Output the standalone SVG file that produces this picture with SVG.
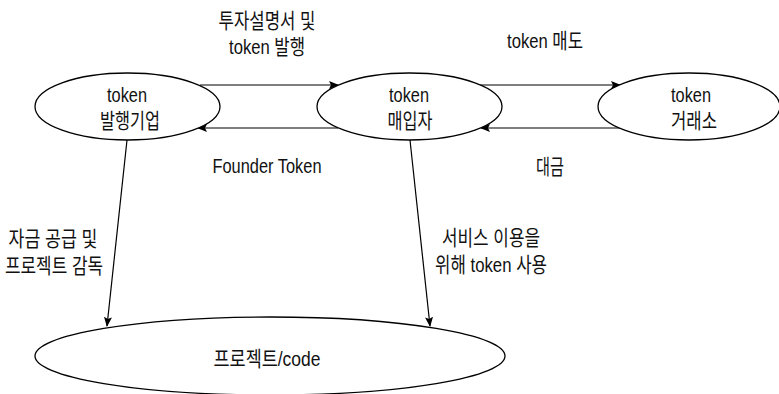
<svg xmlns="http://www.w3.org/2000/svg" width="779" height="394" viewBox="0 0 779 394">
<style>
.n{fill:#fff;stroke:#000;stroke-width:1.3}
.c{stroke:#000;stroke-width:1.2;fill:none;marker-end:url(#ah)}
text{font-family:"Liberation Sans","Noto Sans CJK KR",sans-serif;font-size:21px;fill:#111;text-anchor:middle}
</style>
<defs>
<marker id="ah" viewBox="0 0 10 10" refX="9" refY="5" markerWidth="10" markerHeight="10" markerUnits="userSpaceOnUse" orient="auto">
<path d="M0,1 L10,5 L0,9 L2,5 Z" fill="#000"/>
</marker>
</defs>
<rect width="779" height="394" fill="#fff"/>
<g id="connectors">
<line class="c" x1="200" y1="85" x2="338" y2="85"/>
<line class="c" x1="338" y1="128" x2="198" y2="128"/>
<line class="c" x1="480" y1="85" x2="620" y2="85"/>
<line class="c" x1="620" y1="128" x2="481" y2="128"/>
<line class="c" x1="127" y1="140" x2="107" y2="326"/>
<line class="c" x1="410" y1="140" x2="430" y2="326"/>
<text x="267" y="28" textLength="97" lengthAdjust="spacingAndGlyphs">투자설명서 및</text>
<text x="267" y="54" textLength="76" lengthAdjust="spacingAndGlyphs">token 발행</text>
<text x="267" y="173" textLength="109" lengthAdjust="spacingAndGlyphs">Founder Token</text>
<text x="545" y="48" textLength="76" lengthAdjust="spacingAndGlyphs">token 매도</text>
<text x="550" y="174" textLength="28" lengthAdjust="spacingAndGlyphs">대금</text>
<text x="53" y="246" textLength="89" lengthAdjust="spacingAndGlyphs">자금 공급 및</text>
<text x="54" y="273" textLength="98" lengthAdjust="spacingAndGlyphs">프로젝트 감독</text>
<text x="491" y="245" textLength="98" lengthAdjust="spacingAndGlyphs">서비스 이용을</text>
<text x="491" y="272" textLength="112" lengthAdjust="spacingAndGlyphs">위해 token 사용</text>
</g>
<g id="node-issuer">
<ellipse class="n" cx="127.5" cy="106.5" rx="92.5" ry="33.5"/>
<text x="127" y="102" textLength="40" lengthAdjust="spacingAndGlyphs">token</text>
<text x="130" y="128" textLength="60" lengthAdjust="spacingAndGlyphs">발행기업</text>
</g>
<g id="node-buyer">
<ellipse class="n" cx="409.5" cy="106.5" rx="92.5" ry="33.5"/>
<text x="409" y="102" textLength="40" lengthAdjust="spacingAndGlyphs">token</text>
<text x="410" y="128" textLength="45" lengthAdjust="spacingAndGlyphs">매입자</text>
</g>
<g id="node-exchange">
<ellipse class="n" cx="689" cy="106.5" rx="91" ry="33.5"/>
<text x="691" y="102" textLength="40" lengthAdjust="spacingAndGlyphs">token</text>
<text x="694" y="128" textLength="46" lengthAdjust="spacingAndGlyphs">거래소</text>
</g>
<g id="node-project">
<ellipse class="n" cx="270" cy="356" rx="235" ry="39"/>
<text x="267" y="366" textLength="107" lengthAdjust="spacingAndGlyphs">프로젝트/code</text>
</g>
</svg>
